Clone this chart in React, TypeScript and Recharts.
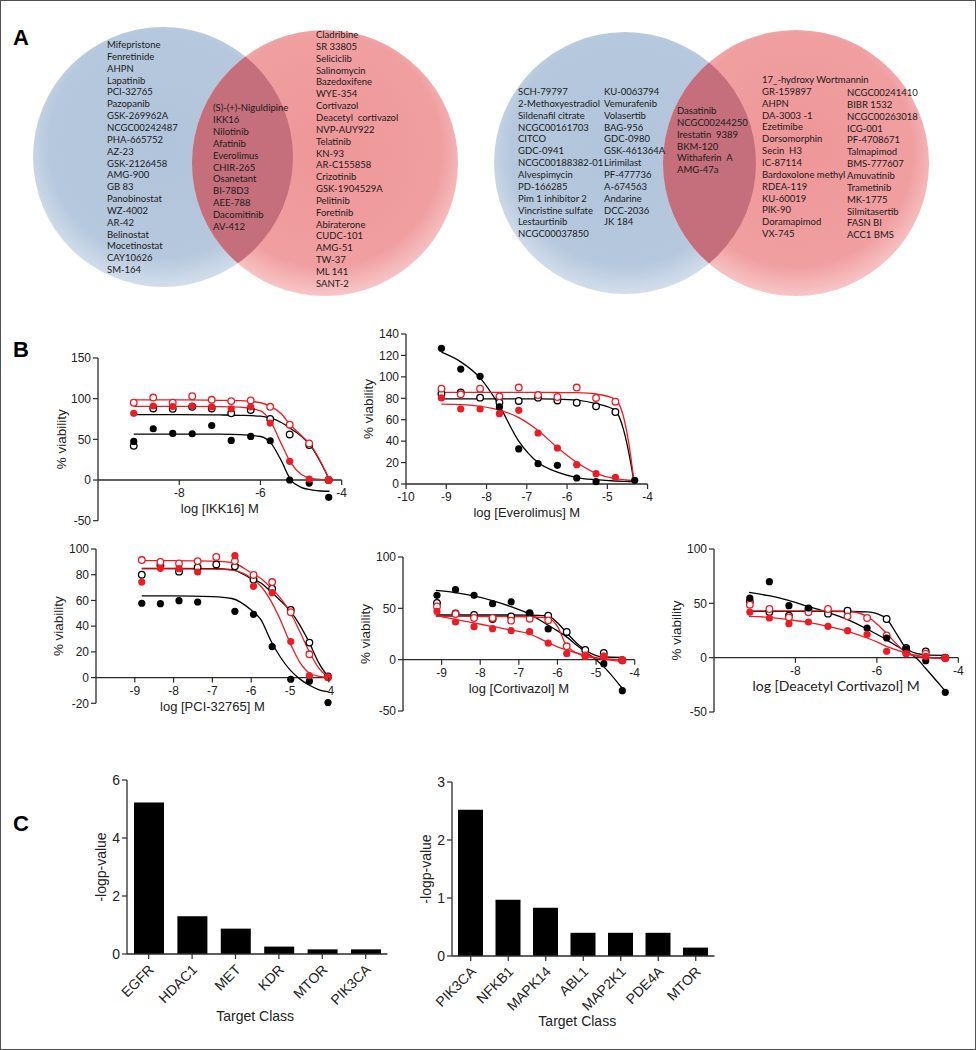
import React from "react";
import {
  ComposedChart,
  ScatterChart,
  BarChart,
  Bar,
  Line,
  Scatter,
  XAxis,
  YAxis,
  ReferenceLine,
} from "recharts";

const FONT = "'Liberation Sans', Arial, sans-serif";
const LIST_FONT = "Lato, 'Open Sans', sans-serif";
const RED = "#ec1c24";
const BLACK = "#000000";
const AXIS = "#2b2b2b";

// ---------- Panel A: compound lists ----------
const VENN1_LEFT = [
  "Mifepristone", "Fenretinide", "AHPN", "Lapatinib", "PCI-32765", "Pazopanib",
  "GSK-269962A", "NCGC00242487", "PHA-665752", "AZ-23", "GSK-2126458", "AMG-900",
  "GB 83", "Panobinostat", "WZ-4002", "AR-42", "Belinostat", "Mocetinostat",
  "CAY10626", "SM-164",
];
const VENN1_BOTH = [
  "(S)-(+)-Niguldipine", "IKK16", "Nilotinib", "Afatinib", "Everolimus", "CHIR-265",
  "Osanetant", "BI-78D3", "AEE-788", "Dacomitinib", "AV-412",
];
const VENN1_RIGHT = [
  "Cladribine", "SR 33805", "Seliciclib", "Salinomycin", "Bazedoxifene", "WYE-354",
  "Cortivazol", "Deacetyl  cortivazol", "NVP-AUY922", "Telatinib", "KN-93",
  "AR-C155858", "Crizotinib", "GSK-1904529A", "Pelitinib", "Foretinib",
  "Abiraterone", "CUDC-101", "AMG-51", "TW-37", "ML 141", "SANT-2",
];
const VENN2_LEFT_A = [
  "SCH-79797", "2-Methoxyestradiol", "Sildenafil citrate", "NCGC00161703", "CITCO",
  "GDC-0941", "NCGC00188382-01", "Alvespimycin", "PD-166285", "Pim 1 inhibitor 2",
  "Vincristine sulfate", "Lestaurtinib", "NCGC00037850",
];
const VENN2_LEFT_B = [
  "KU-0063794", "Vemurafenib", "Volasertib", "BAG-956", "GDC-0980", "GSK-461364A",
  "Lirimilast", "PF-477736", "A-674563", "Andarine", "DCC-2036", "JK 184",
];
const VENN2_BOTH = [
  "Dasatinib", "NCGC00244250", "Irestatin  9389", "BKM-120", "Withaferin  A", "AMG-47a",
];
const VENN2_RIGHT_A = [
  "17_-hydroxy Wortmannin", "GR-159897", "AHPN", "DA-3003 -1", "Ezetimibe",
  "Dorsomorphin", "Secin  H3", "IC-87114", "Bardoxolone methyl", "RDEA-119",
  "KU-60019", "PIK-90", "Doramapimod", "VX-745",
];
const VENN2_RIGHT_B = [
  "NCGC00241410", "BIBR 1532", "NCGC00263018", "ICG-001", "PF-4708671",
  "Talmapimod", "BMS-777607", "Amuvatinib", "Trametinib", "MK-1775",
  "Silmitasertib", "FASN BI", "ACC1 BMS",
];

// ---------- Panel B: dose response ----------
const DOSES = [-9.12, -8.64, -8.16, -7.68, -7.2, -6.72, -6.24, -5.76, -5.28, -4.8, -4.32];
const DOSES_PCI = [-8.82, -8.34, -7.86, -7.38, -6.9, -6.42, -5.94, -5.46, -4.98, -4.5, -4.02];

const IKK16_BLACK_FILLED = [47.4, 63, 57.3, 56.9, 67, 48.7, 53.6, 48.3, 0, -3.7, -21.3];
const IKK16_BLACK_OPEN = [42, 88, 87.5, 90, 88, 82, 86, 75, 56, 43, 0];
const IKK16_RED_FILLED = [82, 91, 90.4, 91, 90, 87.5, 90, 70, 23, 1, 0];
const IKK16_RED_OPEN = [95, 101.4, 95, 103, 98.6, 97, 97.8, 90, 68, 45, 0];
const IKK16_CURVE_X = [-9.12, -8, -7, -6.5, -6, -5.75, -5.5, -5.25, -5, -4.75, -4.5, -4.3];
const IKK16_FIT_BLACK_FILLED = [56.5, 56.5, 56.3, 55.8, 53.5, 46, 25, 0, -9, -12, -13.5, -13.8];
const IKK16_FIT_BLACK_OPEN = [80.5, 80.5, 80, 79.5, 78.5, 76, 71, 63, 54, 41, 20, 0];
const IKK16_FIT_RED_FILLED = [90.5, 90.5, 90.3, 89.5, 85, 72, 46, 21, 7, 2, 0.5, 0];
const IKK16_FIT_RED_OPEN = [98.5, 98.5, 98, 97.5, 95, 90.5, 82, 67, 55, 42, 21, 0];

const EVE_BLACK_FILLED = [126.6, 107.3, 100.5, 71.9, 32.7, 19, 17.4, 5.6, 2.2, null, 3.5];
const EVE_BLACK_OPEN = [84.3, 85.5, 80.6, 76.2, 77.5, 80.6, 78, 75.9, 72.5, 67.2, null];
const EVE_RED_FILLED = [80.3, 70, 70, 65.6, 68.8, 47.6, 33.6, 18, 9.6, 6.2, null];
const EVE_RED_OPEN = [89, 83.7, 89, 81.8, 90, 83, 81.2, 90, 80.3, 76.8, null];
const EVE_CURVE_X = [-9.12, -8.64, -8.16, -7.68, -7.2, -6.72, -6.24, -5.76, -5.28, -4.8, -4.6, -4.45, -4.33];
const EVE_FIT_BLACK_FILLED = [123, 114, 99, 73, 40, 20, 11, 6, 4, 2.8, 2.5, 2.3, 2.2];
const EVE_FIT_BLACK_OPEN = [79.5, 79.5, 79.5, 79.5, 79.5, 79.4, 79.2, 78.3, 75, 68.5, 51, 26, 0];
const EVE_FIT_RED_FILLED = [74.5, 74, 72.5, 69, 62, 50, 34, 20, 10, 5, 4, 3.5, 3];
const EVE_FIT_RED_OPEN = [85.5, 85.5, 85.5, 85.5, 85.5, 85.5, 85.4, 85.2, 84, 79, 63, 34, 0];

const PCI_BLACK_FILLED = [57.8, 57.5, 59.8, 58.8, null, 51.5, 49.2, 24.1, -1.3, -2.8, -19.4];
const PCI_BLACK_OPEN = [80, 87.3, 82.4, 85.7, 88, 86.5, 76.1, 69.2, 52.6, 27.2, 0.8];
const PCI_RED_FILLED = [74.3, 85, 84.7, 82.1, null, 94.8, 71, 66, 28, 1.6, 0];
const PCI_RED_OPEN = [91.4, 89.9, 88.8, 90.6, 93.8, 90.6, 79.8, 74.3, 50.8, 18.1, 0.3];
const PCI_CURVE_X = [-8.82, -8, -7, -6.5, -6, -5.75, -5.5, -5.25, -5, -4.75, -4.5, -4.25, -4.02];
const PCI_FIT_BLACK_FILLED = [63.5, 63.5, 63, 61.5, 52.5, 45, 29, 16, 6, -1, -6, -9.5, -11];
const PCI_FIT_BLACK_OPEN = [85, 85, 84.8, 84, 77, 73.5, 67, 60, 52, 41, 27, 11, 0.5];
const PCI_FIT_RED_FILLED = [84.5, 84.5, 84.3, 83.5, 77.5, 71, 60, 45, 27, 12, 3.5, 1, 0.3];
const PCI_FIT_RED_OPEN = [91, 91, 90.5, 89.5, 81.5, 77, 70, 62, 51, 36, 20, 7, 0.5];

const CORT_BLACK_FILLED = [62.7, 68.2, 62.7, 54.5, 56.2, 45.5, 29.9, null, null, -3.9, -30.2];
const CORT_BLACK_OPEN = [55.2, 45.1, 43.5, 39.6, 42.2, 44.8, 42.9, 27, 9.4, 6.5, -0.6];
const CORT_RED_FILLED = [47, 36.7, 32.1, 30.2, 28.2, 27.3, 16.2, 5.8, 3.2, 3.2, -0.6];
const CORT_RED_OPEN = [51.9, 44.5, 40.6, 40.6, 38, 39.9, 38.3, 13, 4.2, 3.2, -0.6];
const CORT_CURVE_X = [-9.15, -8.68, -8.2, -7.71, -7.23, -6.75, -6.26, -6, -5.78, -5.5, -5.29, -5, -4.81, -4.33];
const CORT_FIT_BLACK_FILLED = [67.5, 65.6, 62.3, 57.8, 52, 44.8, 34, 28, 22.7, 14, 8, 0, -6.5, -27.6];
const CORT_FIT_BLACK_OPEN = [43.5, 43.5, 43.5, 43.5, 43.5, 43.4, 42.8, 36, 27, 16, 9.7, 4, 2.6, 2.3];
const CORT_FIT_RED_FILLED = [42.9, 39.5, 36, 32.5, 29, 25.3, 17, 12.5, 9.7, 6.3, 4.5, 2, 0.6, -1.6];
const CORT_FIT_RED_OPEN = [42.2, 42.2, 42.1, 42, 42, 41.8, 40.5, 32.5, 14.6, 6.5, 3.2, 1.6, 1, 0];

const DEA_BLACK_FILLED = [54.9, 69.9, 47.8, 45.7, null, null, 27.3, 18.1, 8, -2.8, -31.9];
const DEA_BLACK_OPEN = [51.8, 42, 38.6, 44.8, 40.5, 43.2, null, 35.6, 8.9, 5.8, 0];
const DEA_RED_FILLED = [42, 36.5, 31.3, 32.8, 28.8, 24.8, 21.5, 5.8, 3.7, 1.2, 0];
const DEA_RED_OPEN = [48.8, 44.8, 37.1, 41.7, 44.8, 38, 36.5, 20.5, 4.3, 3.7, -0.6];
const DEA_CURVE_X = [-9.14, -8.65, -8.17, -7.69, -7.2, -6.72, -6.24, -6, -5.77, -5.5, -5.29, -5, -4.81, -4.35];
const DEA_FIT_BLACK_FILLED = [60, 57, 52.8, 47.2, 41.7, 35, 26.4, 21.5, 16.6, 10.5, 5.8, -1.5, -9.5, -29.4];
const DEA_FIT_BLACK_OPEN = [42.6, 42.6, 42.6, 42.6, 42.6, 42.5, 42.2, 40.5, 36, 21, 9, 3.7, 2.5, 2.1];
const DEA_FIT_RED_FILLED = [38, 37.1, 35, 32.5, 28.8, 24.2, 18.1, 14.5, 10.4, 7, 4.3, 2, 0.6, -0.9];
const DEA_FIT_RED_OPEN = [43, 43, 43, 43, 43, 42.7, 38, 31, 22.7, 12, 4.9, 1.2, 0.3, -0.9];

// ---------- Panel C: target class enrichment ----------
const TARGETS_1 = ["EGFR", "HDAC1", "MET", "KDR", "MTOR", "PIK3CA"];
const LOGP_1 = [5.22, 1.3, 0.875, 0.255, 0.16, 0.16];
const TARGETS_2 = ["PIK3CA", "NFKB1", "MAPK14", "ABL1", "MAP2K1", "PDE4A", "MTOR"];
const LOGP_2 = [2.52, 0.97, 0.83, 0.4, 0.4, 0.4, 0.145];

type Num = number | null;

function toPoints(xs: number[], ys: Num[]) {
  return xs.map((x, i) => ({ x, y: ys[i] })).filter((d) => d.y !== null && d.y !== undefined);
}

const filledDot = (color: string) => (p: any) =>
  <circle cx={p.cx} cy={p.cy} r={3.6} fill={color} />;
const openDot = (color: string) => (p: any) =>
  <circle cx={p.cx} cy={p.cy} r={3.3} fill="#fff" stroke={color} strokeWidth={1.3} />;

function ZeroTick({ x, payload, zeroY }: any) {
  return (
    <g>
      <line x1={x} x2={x} y1={zeroY} y2={zeroY + 5} stroke={AXIS} strokeWidth={1.2} />
      <text x={x} y={zeroY + 17} textAnchor="middle" fontSize={12} fontFamily={FONT} fill="#222">
        {payload.value}
      </text>
    </g>
  );
}

function VerticalTitle({ viewBox, dx, text, size }: any) {
  const x = viewBox.x + viewBox.width + dx;
  const y = viewBox.y + viewBox.height / 2;
  return (
    <text
      x={x}
      y={y}
      transform={`rotate(-90 ${x} ${y})`}
      textAnchor="middle"
      dominantBaseline="central"
      fontSize={size}
      fontFamily={FONT}
      fill="#222"
    >
      {text}
    </text>
  );
}

interface DoseProps {
  plotLeft: number;
  plotTop: number;
  plotWidth: number;
  plotHeight: number;
  yDomain: [number, number];
  yTicks: number[];
  xTicks: number[];
  title: string;
  titleFont?: string;
  titleSize?: number;
  doses: number[];
  blackFilled: Num[];
  blackOpen: Num[];
  redFilled: Num[];
  redOpen: Num[];
  curveX: number[];
  fitBlackFilled: number[];
  fitBlackOpen: number[];
  fitRedFilled: number[];
  fitRedOpen: number[];
}

function DoseChart(p: DoseProps) {
  const YW = 60, MT = 10, MR = 15, XH = 45;
  const [ymin, ymax] = p.yDomain;
  const zeroY = MT + (ymax / (ymax - ymin)) * p.plotHeight;
  const fit = (ys: number[]) => p.curveX.map((x, i) => ({ x, y: ys[i] }));
  const fits = [
    { d: fit(p.fitBlackFilled), c: BLACK },
    { d: fit(p.fitBlackOpen), c: BLACK },
    { d: fit(p.fitRedFilled), c: RED },
    { d: fit(p.fitRedOpen), c: RED },
  ];
  return (
    <div style={{ position: "absolute", left: p.plotLeft - YW, top: p.plotTop - MT }}>
      <ComposedChart
        width={YW + p.plotWidth + MR}
        height={MT + p.plotHeight + XH}
        margin={{ top: MT, right: MR, bottom: 0, left: 0 }}
      >
        <XAxis
          type="number"
          dataKey="x"
          domain={[-10, -4]}
          ticks={p.xTicks}
          interval={0}
          height={XH}
          axisLine={false}
          tickLine={false}
          tick={(t: any) => <ZeroTick {...t} zeroY={zeroY} />}
        />
        <YAxis
          type="number"
          dataKey="y"
          domain={p.yDomain}
          ticks={p.yTicks}
          interval={0}
          width={YW}
          tickSize={5}
          axisLine={{ stroke: AXIS, strokeWidth: 1.3 }}
          tickLine={{ stroke: AXIS, strokeWidth: 1.2 }}
          tick={{ fontSize: 12, fill: "#222", fontFamily: FONT }}
          label={(lp: any) => <VerticalTitle viewBox={lp.viewBox} dx={-37} text="% viability" size={13.5} />}
        />
        <ReferenceLine
          y={0}
          stroke={AXIS}
          strokeWidth={1.3}
          label={(lp: any) => (
            <text
              x={lp.viewBox.x + lp.viewBox.width / 2}
              y={lp.viewBox.y + 33}
              textAnchor="middle"
              fontSize={p.titleSize ?? 13}
              fontFamily={p.titleFont ?? FONT}
              fill="#222"
            >
              {p.title}
            </text>
          )}
        />
        {fits.map((f, i) => (
          <Line
            key={i}
            data={f.d}
            dataKey="y"
            type="monotone"
            stroke={f.c}
            strokeWidth={1.3}
            dot={false}
            activeDot={false}
            isAnimationActive={false}
          />
        ))}
        <Scatter data={toPoints(p.doses, p.blackOpen)} dataKey="y" shape={openDot(BLACK)} isAnimationActive={false} />
        <Scatter data={toPoints(p.doses, p.redOpen)} dataKey="y" shape={openDot(RED)} isAnimationActive={false} />
        <Scatter data={toPoints(p.doses, p.blackFilled)} dataKey="y" shape={filledDot(BLACK)} isAnimationActive={false} />
        <Scatter data={toPoints(p.doses, p.redFilled)} dataKey="y" shape={filledDot(RED)} isAnimationActive={false} />
      </ComposedChart>
    </div>
  );
}

function SlantTick({ x, y, payload }: any) {
  const ax = x + 6;
  const ay = y + 9.5;
  return (
    <text
      x={ax}
      y={ay}
      transform={`rotate(-45 ${ax} ${ay})`}
      textAnchor="end"
      fontSize={14}
      fontFamily={FONT}
      fill="#222"
    >
      {payload.value}
    </text>
  );
}

interface TargetProps {
  plotLeft: number;
  plotTop: number;
  plotWidth: number;
  plotHeight: number;
  targets: string[];
  values: number[];
  yMax: number;
  yTicks: number[];
  barSize: number;
  titleDx: number;
  titleDy: number;
}

function TargetChart(p: TargetProps) {
  const YW = 60, MT = 10, MR = 10, XH = 90;
  const data = p.targets.map((t, i) => ({ target: t, value: p.values[i] }));
  return (
    <div style={{ position: "absolute", left: p.plotLeft - YW, top: p.plotTop - MT }}>
      <BarChart
        width={YW + p.plotWidth + MR}
        height={MT + p.plotHeight + XH}
        data={data}
        margin={{ top: MT, right: MR, bottom: 0, left: 0 }}
      >
        <XAxis
          dataKey="target"
          interval={0}
          height={XH}
          tickSize={5}
          axisLine={{ stroke: AXIS, strokeWidth: 1.3 }}
          tickLine={{ stroke: AXIS, strokeWidth: 1.2 }}
          tick={(t: any) => <SlantTick {...t} />}
          label={(lp: any) => (
            <text
              x={lp.viewBox.x + lp.viewBox.width / 2 + p.titleDx}
              y={lp.viewBox.y + p.titleDy}
              textAnchor="middle"
              fontSize={14}
              fontFamily={FONT}
              fill="#222"
            >
              Target Class
            </text>
          )}
        />
        <YAxis
          type="number"
          domain={[0, p.yMax]}
          ticks={p.yTicks}
          interval={0}
          width={YW}
          tickSize={5}
          axisLine={{ stroke: AXIS, strokeWidth: 1.3 }}
          tickLine={{ stroke: AXIS, strokeWidth: 1.2 }}
          tick={{ fontSize: 14, fill: "#222", fontFamily: FONT }}
          label={(lp: any) => <VerticalTitle viewBox={lp.viewBox} dx={-26} text="-logp-value" size={14} />}
        />
        <Bar dataKey="value" fill="#000" barSize={p.barSize} isAnimationActive={false} />
      </BarChart>
    </div>
  );
}

// Venn circle layout (page pixels; the hidden axes map 1:1 onto the page)
const VENN_LAYOUT = [
  { id: "v1", blue: { cx: 163, cy: 157, r: 130 }, red: { cx: 325, cy: 163, r: 133 } },
  { id: "v2", blue: { cx: 625, cy: 163, r: 131 }, red: { cx: 796, cy: 163, r: 133 } },
];

function VennCircles() {
  const W = 976, H = 305;
  return (
    <div style={{ position: "absolute", left: 0, top: 0 }}>
      <ScatterChart width={W} height={H} margin={{ top: 0, right: 0, bottom: 0, left: 0 }}>
        <defs>
          {VENN_LAYOUT.map((v) => (
            <React.Fragment key={v.id}>
              <radialGradient id={v.id + "gb"} cx="50%" cy="45%" r="55%">
                <stop offset="0%" stopColor="#b1c4db" />
                <stop offset="80%" stopColor="#b6c8dd" />
                <stop offset="100%" stopColor="#d3deeb" />
              </radialGradient>
              <radialGradient id={v.id + "gr"} cx="50%" cy="45%" r="55%">
                <stop offset="0%" stopColor="#ee9698" />
                <stop offset="80%" stopColor="#f09fa1" />
                <stop offset="100%" stopColor="#f7c6c7" />
              </radialGradient>
              <clipPath id={v.id + "clip"}>
                <circle cx={v.blue.cx} cy={v.blue.cy} r={v.blue.r} />
              </clipPath>
            </React.Fragment>
          ))}
        </defs>
        <XAxis type="number" dataKey="x" domain={[0, W]} hide />
        <YAxis type="number" dataKey="y" domain={[0, H]} reversed hide />
        {VENN_LAYOUT.map((v) => (
          <Scatter
            key={v.id + "b"}
            data={[{ x: v.blue.cx, y: v.blue.cy }]}
            isAnimationActive={false}
            shape={(s: any) => <circle cx={s.cx} cy={s.cy} r={v.blue.r} fill={`url(#${v.id}gb)`} />}
          />
        ))}
        {VENN_LAYOUT.map((v) => (
          <Scatter
            key={v.id + "r"}
            data={[{ x: v.red.cx, y: v.red.cy }]}
            isAnimationActive={false}
            shape={(s: any) => (
              <g>
                <circle cx={s.cx} cy={s.cy} r={v.red.r} fill={`url(#${v.id}gr)`} />
                <circle cx={s.cx} cy={s.cy} r={v.red.r} fill="#c56f7d" clipPath={`url(#${v.id}clip)`} />
              </g>
            )}
          />
        ))}
      </ScatterChart>
    </div>
  );
}

function NameList({ items, x, y }: { items: string[]; x: number; y: number }) {
  const LH = 11.85;
  return (
    <div
      style={{
        position: "absolute",
        left: x,
        top: y - LH / 2,
        fontFamily: LIST_FONT,
        fontSize: 9.5,
        lineHeight: `${LH}px`,
        color: "#1a1a1a",
        whiteSpace: "pre",
      }}
    >
      {items.map((s, i) => (
        <div key={i}>{s}</div>
      ))}
    </div>
  );
}

function PanelLetter({ text, x, y }: { text: string; x: number; y: number }) {
  return (
    <div
      style={{
        position: "absolute",
        left: x,
        top: y,
        fontFamily: FONT,
        fontWeight: "bold",
        fontSize: 22,
        lineHeight: "22px",
        color: "#000",
      }}
    >
      {text}
    </div>
  );
}

export default function App() {
  return (
    <div
      style={{
        position: "absolute",
        left: 0,
        top: 0,
        width: 976,
        height: 1050,
        background: "#fff",
        overflow: "hidden",
      }}
    >
      <div
        style={{
          position: "absolute",
          left: 0,
          top: 0,
          width: 976,
          height: 1050,
          boxSizing: "border-box",
          border: "1.5px solid #505050",
        }}
      />
      <PanelLetter text="A" x={13} y={27} />
      <PanelLetter text="B" x={13} y={339} />
      <PanelLetter text="C" x={13} y={813} />

      <VennCircles />
      <NameList items={VENN1_LEFT} x={107} y={45} />
      <NameList items={VENN1_BOTH} x={213} y={108.3} />
      <NameList items={VENN1_RIGHT} x={316} y={35} />
      <NameList items={VENN2_LEFT_A} x={518} y={92} />
      <NameList items={VENN2_LEFT_B} x={604} y={92} />
      <NameList items={VENN2_BOTH} x={677} y={111} />
      <NameList items={VENN2_RIGHT_A} x={762} y={80} />
      <NameList items={VENN2_RIGHT_B} x={847} y={93} />

      <DoseChart
        plotLeft={97.7} plotTop={358.3} plotWidth={243.7} plotHeight={162.7}
        yDomain={[-50, 150]} yTicks={[-50, 0, 50, 100, 150]} xTicks={[-8, -6, -4]}
        title="log [IKK16] M" doses={DOSES}
        blackFilled={IKK16_BLACK_FILLED} blackOpen={IKK16_BLACK_OPEN}
        redFilled={IKK16_RED_FILLED} redOpen={IKK16_RED_OPEN}
        curveX={IKK16_CURVE_X}
        fitBlackFilled={IKK16_FIT_BLACK_FILLED} fitBlackOpen={IKK16_FIT_BLACK_OPEN}
        fitRedFilled={IKK16_FIT_RED_FILLED} fitRedOpen={IKK16_FIT_RED_OPEN}
      />
      <DoseChart
        plotLeft={406} plotTop={334.3} plotWidth={241.6} plotHeight={150}
        yDomain={[0, 140]} yTicks={[0, 20, 40, 60, 80, 100, 120, 140]}
        xTicks={[-10, -9, -8, -7, -6, -5, -4]}
        title="log [Everolimus] M" doses={DOSES}
        blackFilled={EVE_BLACK_FILLED} blackOpen={EVE_BLACK_OPEN}
        redFilled={EVE_RED_FILLED} redOpen={EVE_RED_OPEN}
        curveX={EVE_CURVE_X}
        fitBlackFilled={EVE_FIT_BLACK_FILLED} fitBlackOpen={EVE_FIT_BLACK_OPEN}
        fitRedFilled={EVE_FIT_RED_FILLED} fitRedOpen={EVE_FIT_RED_OPEN}
      />
      <DoseChart
        plotLeft={96} plotTop={549} plotWidth={232.8} plotHeight={154.3}
        yDomain={[-20, 100]} yTicks={[-20, 0, 20, 40, 60, 80, 100]}
        xTicks={[-9, -8, -7, -6, -5, -4]}
        title="log [PCI-32765] M" doses={DOSES_PCI}
        blackFilled={PCI_BLACK_FILLED} blackOpen={PCI_BLACK_OPEN}
        redFilled={PCI_RED_FILLED} redOpen={PCI_RED_OPEN}
        curveX={PCI_CURVE_X}
        fitBlackFilled={PCI_FIT_BLACK_FILLED} fitBlackOpen={PCI_FIT_BLACK_OPEN}
        fitRedFilled={PCI_FIT_RED_FILLED} fitRedOpen={PCI_FIT_RED_OPEN}
      />
      <DoseChart
        plotLeft={403.3} plotTop={557.3} plotWidth={231.7} plotHeight={154}
        yDomain={[-50, 100]} yTicks={[-50, 0, 50, 100]}
        xTicks={[-9, -8, -7, -6, -5, -4]}
        title="log [Cortivazol] M" doses={DOSES}
        blackFilled={CORT_BLACK_FILLED} blackOpen={CORT_BLACK_OPEN}
        redFilled={CORT_RED_FILLED} redOpen={CORT_RED_OPEN}
        curveX={CORT_CURVE_X}
        fitBlackFilled={CORT_FIT_BLACK_FILLED} fitBlackOpen={CORT_FIT_BLACK_OPEN}
        fitRedFilled={CORT_FIT_RED_FILLED} fitRedOpen={CORT_FIT_RED_OPEN}
      />
      <DoseChart
        plotLeft={714} plotTop={549.3} plotWidth={244.3} plotHeight={163}
        yDomain={[-50, 100]} yTicks={[-50, 0, 50, 100]} xTicks={[-8, -6, -4]}
        title="log [Deacetyl Cortivazol] M" titleFont={LIST_FONT} titleSize={14}
        doses={DOSES}
        blackFilled={DEA_BLACK_FILLED} blackOpen={DEA_BLACK_OPEN}
        redFilled={DEA_RED_FILLED} redOpen={DEA_RED_OPEN}
        curveX={DEA_CURVE_X}
        fitBlackFilled={DEA_FIT_BLACK_FILLED} fitBlackOpen={DEA_FIT_BLACK_OPEN}
        fitRedFilled={DEA_FIT_RED_FILLED} fitRedOpen={DEA_FIT_RED_OPEN}
      />

      <TargetChart
        plotLeft={127.3} plotTop={779.7} plotWidth={260.4} plotHeight={174}
        targets={TARGETS_1} values={LOGP_1} yMax={6} yTicks={[0, 2, 4, 6]}
        barSize={30} titleDx={-2} titleDy={67}
      />
      <TargetChart
        plotLeft={452} plotTop={781.7} plotWidth={262.5} plotHeight={174}
        targets={TARGETS_2} values={LOGP_2} yMax={3} yTicks={[0, 1, 2, 3]}
        barSize={25} titleDx={-6} titleDy={70}
      />
    </div>
  );
}
